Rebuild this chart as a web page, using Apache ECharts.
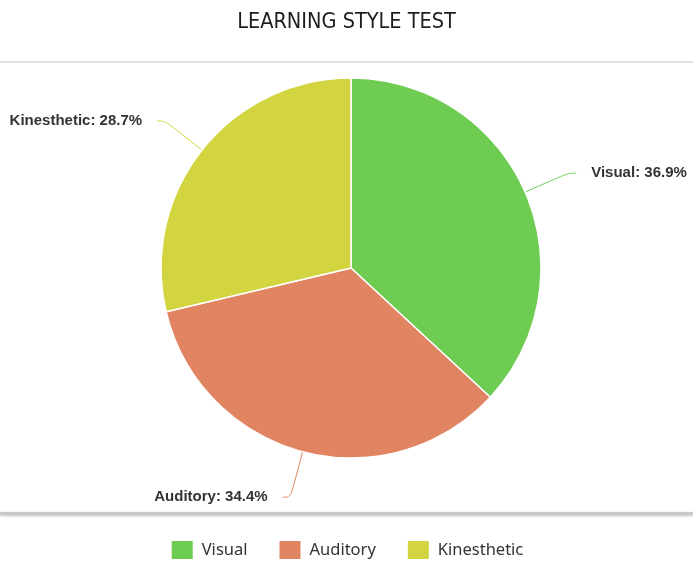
<!DOCTYPE html>
<html>
<head>
<meta charset="utf-8">
<title>Learning Style Test</title>
<script src="https://cdn.jsdelivr.net/npm/echarts@6/dist/echarts.min.js"></script>
<style>
  html, body { margin: 0; padding: 0; background: #fff; }
  #chart { width: 693px; height: 570px; }
</style>
</head>
<body>
<div id="chart"></div>
<script>
  // data
  var categories = ['Visual', 'Auditory', 'Kinesthetic']
  var shares = [36.9, 34.4, 28.7]
  var colors = ['#6ECC52', '#E08462', '#D2D440']

  var chart = echarts.init(document.getElementById('chart'))

  var option = {
    animation: false,
    color: colors,
    title: {
      text: 'LEARNING STYLE TEST',
      left: 'center',
      top: 6,
      textStyle: {
        fontFamily: 'DejaVu Sans Condensed, Liberation Sans Narrow, sans-serif',
        fontWeight: 'normal',
        fontSize: 21.5,
        color: '#1e1e1e'
      }
    },
    legend: {
      bottom: 4,
      left: 'center',
      itemWidth: 23,
      itemHeight: 20,
      itemGap: 30,
      icon: 'rect',
      data: categories,
      textStyle: {
        fontFamily: 'Noto Sans, sans-serif',
        fontSize: 16.5,
        color: '#333',
        padding: [0, 0, 0, 3]
      }
    },
    graphic: [
      { type: 'rect', shape: { x: 0, y: 61, width: 693, height: 2 }, style: { fill: '#e2e2e2' } },
      { type: 'rect', shape: { x: 0, y: 512, width: 693, height: 3 },
        style: { fill: '#c8c8c8', shadowBlur: 3, shadowColor: 'rgba(0,0,0,0.25)', shadowOffsetY: 1 } }
    ],
    series: [{
      type: 'pie',
      center: [351, 268],
      radius: 190,
      startAngle: 90,
      clockwise: true,
      itemStyle: {
        borderColor: '#fff',
        borderWidth: 1.5
      },
      label: {
        formatter: '{b}: {c}%',
        fontFamily: 'Liberation Sans, Arial, sans-serif',
        fontWeight: 'bold',
        fontSize: 15,
        color: '#333',
        distanceToLabelLine: 15,
        edgeDistance: 0,
        overflow: 'none'
      },
      labelLine: {
        length: 47,
        length2: 8,
        smooth: 0.4,
        lineStyle: { width: 1 }
      },
      data: categories.map(function (name, i) {
        return { name: name, value: shares[i] }
      })
    }]
  }

  chart.setOption(option)
</script>
</body>
</html>
